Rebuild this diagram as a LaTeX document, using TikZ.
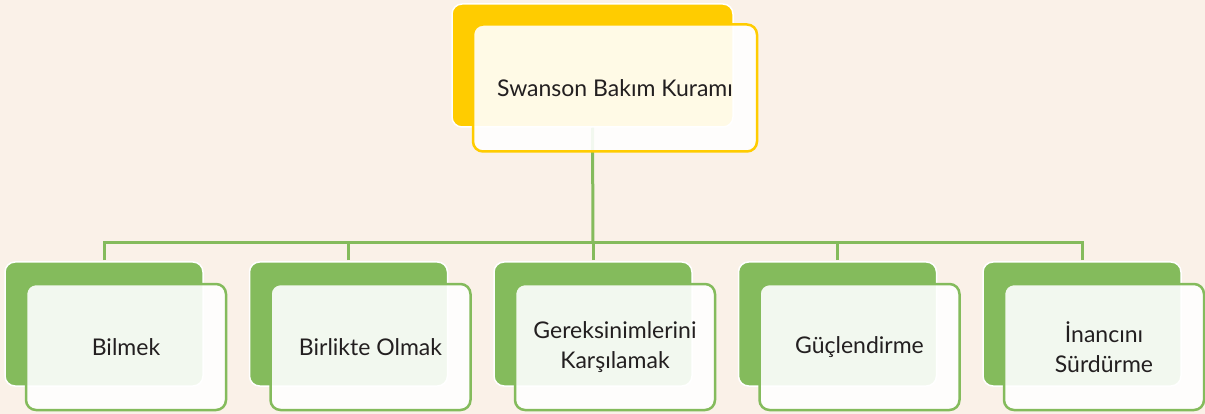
\documentclass[tikz,border=0pt]{standalone}
\usepackage{fontspec}
\setmainfont{Lato}
\definecolor{cream}{RGB}{250,241,232}
\definecolor{sun}{RGB}{255,204,0}
\definecolor{leaf}{RGB}{132,187,92}
\definecolor{ink}{RGB}{35,31,32}

\begin{document}
\begin{tikzpicture}[x=1pt, y=-1pt,
  back/.style = {draw=white, line width=1.5pt, rounded corners=10pt, inner sep=0pt},
  front/.style = {draw, line width=2.5pt, rounded corners=10pt, fill=white, fill opacity=0.9, text opacity=1, text=ink, align=center, inner sep=0pt, font=\fontsize{23}{30}\selectfont},
  link/.style = {draw=leaf, line width=3pt}]
\fill[cream] (0,0) rectangle (1205,414);
\useasboundingbox (0,0) rectangle (1205,414);
% back boxes
\node[back, fill=sun, minimum width=281pt, minimum height=123pt] (kbg) at (592.5,65.5) {};
\node[back, fill=leaf, minimum width=198pt, minimum height=124pt] (b1bg) at (104,324) {};
\node[back, fill=leaf, minimum width=198pt, minimum height=124pt] (b2bg) at (348.5,324) {};
\node[back, fill=leaf, minimum width=198pt, minimum height=124pt] (b3bg) at (593,324) {};
\node[back, fill=leaf, minimum width=198pt, minimum height=124pt] (b4bg) at (837.5,324) {};
\node[back, fill=leaf, minimum width=198pt, minimum height=124pt] (b5bg) at (1082,324) {};
% connectors
\coordinate (hub) at (593,243);
\draw[link] (kbg.south) -- (hub);
\draw[link, shorten <=1pt] (b1bg.north) |- (hub);
\draw[link, shorten <=1pt] (b5bg.north) |- (hub);
\draw[link, shorten <=1pt] (b2bg.north) -- (b2bg.north |- hub);
\draw[link, shorten <=1pt] (b3bg.north) -- (hub);
\draw[link, shorten <=1pt] (b4bg.north) -- (b4bg.north |- hub);
% front boxes
\node[front, draw=sun, minimum width=284pt, minimum height=127pt] (kuram) at (615,88) {Swanson Bakım Kuramı};
\node[front, draw=leaf, minimum width=200pt, minimum height=126pt] (bilmek) at (126,347) {Bilmek};
\node[front, draw=leaf, minimum width=200pt, minimum height=126pt] (birlikte) at (370.5,347) {Birlikte Olmak};
\node[front, draw=leaf, minimum width=200pt, minimum height=126pt] (gereksinim) at (615,347) {Gereksinimlerini\\Karşılamak};
\node[front, draw=leaf, minimum width=200pt, minimum height=126pt] (guc) at (859.5,347) {Güçlendirme};
\node[front, draw=leaf, minimum width=200pt, minimum height=126pt] (inanc) at (1104,347) {İnancını\\Sürdürme};
\end{tikzpicture}
\end{document}
